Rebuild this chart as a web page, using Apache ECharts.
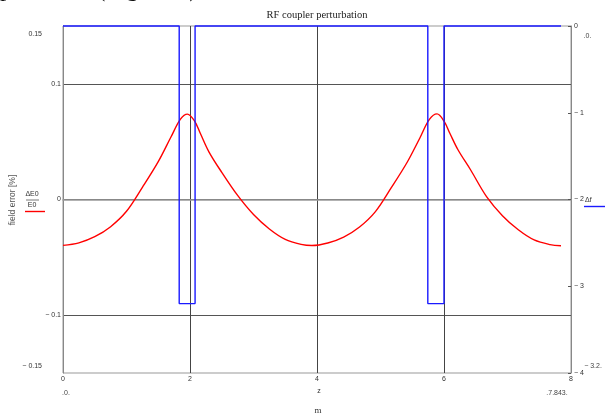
<!DOCTYPE html>
<html>
<head>
<meta charset="utf-8">
<script src="https://cdn.jsdelivr.net/npm/echarts@6/dist/echarts.min.js"></script>
<style>
  html, body { margin: 0; padding: 0; background: #fff; }
  #chart { width: 605px; height: 415px; }
</style>
</head>
<body>
<div id="chart"></div>
<script>
// field error along the cavity
const zValues = [0, 0.25, 0.5, 0.75, 1.0, 1.25, 1.5, 1.7, 1.85, 1.96, 2.07, 2.16, 2.3, 2.5, 2.75, 3.0, 3.25, 3.5, 3.75, 3.92,
  4.17, 4.42, 4.67, 4.92, 5.17, 5.42, 5.62, 5.77, 5.89, 6.0, 6.09, 6.22, 6.42, 6.67, 6.92, 7.17, 7.42, 7.67, 7.843];
const fieldError = [-0.0397, -0.0375, -0.0322, -0.0235, -0.0102, 0.0105, 0.0327, 0.054, 0.0695, 0.0738, 0.068, 0.0575,
  0.041, 0.0235, 0.0035, -0.013, -0.0255, -0.0345, -0.0388, -0.0398,
  -0.0376, -0.0325, -0.0238, -0.0105, 0.0102, 0.0322, 0.0532, 0.0692, 0.074, 0.0678, 0.0575, 0.043, 0.0255, 0.0025,
  -0.014, -0.0262, -0.035, -0.039, -0.04];

// coupler frequency perturbation (step)
const couplerZ = [0, 1.83, 1.83, 2.08, 2.08, 5.745, 5.745, 6.0, 6.0, 7.843];
const couplerDf = [0, 0, -3.2, -3.2, 0, 0, -3.2, -3.2, 0, 0];

const hiddenLeftTicks = [0.05, -0.05];
const leftLimits = [0.15, -0.15];

const minus = (v) => (v < 0 ? '\u2212 ' : '') + Math.abs(v);
const tickFont = { fontSize: 7, fontFamily: 'Liberation Sans', color: '#333' };

const chart = echarts.init(document.getElementById('chart'), null, { renderer: 'canvas' });

const option = {
  animation: false,
  backgroundColor: '#fff',
  grid: {
    left: 63, right: 34, top: 26, bottom: 42,
    show: true, borderColor: '#999', borderWidth: 1,
  },
  xAxis: {
    type: 'value', min: 0, max: 8, interval: 2,
    axisLine: { lineStyle: { color: '#999', width: 1.5 } },
    axisTick: { show: false },
    axisLabel: { ...tickFont, margin: 3 },
    splitLine: {
      show: true, showMinLine: false, showMaxLine: false,
      lineStyle: { color: '#444', width: 1 },
    },
  },
  yAxis: [
    {
      type: 'value', min: -0.15, max: 0.15, interval: 0.05,
      axisLine: { show: true, lineStyle: { color: '#888', width: 1 } },
      axisTick: { show: false },
      axisLabel: {
        ...tickFont, margin: 2,
        formatter: (v) => {
          const r = Math.round(v * 100) / 100;
          if (hiddenLeftTicks.includes(r)) return '';
          if (leftLimits.includes(r)) return (r > 0 ? '{top|' : '{bot|') + minus(r) + '}';
          return minus(r);
        },
        rich: {
          top: { ...tickFont, padding: [16, 19, 0, 0] },
          bot: { ...tickFont, padding: [0, 19, 14, 0] },
        },
      },
      splitLine: {
        show: true, showMinLine: false, showMaxLine: false,
        lineStyle: { color: ['#555', 'rgba(0,0,0,0)'], width: 1 },
      },
    },
    {
      type: 'value', min: -4, max: 0, interval: 1, position: 'right',
      axisLine: { show: true, lineStyle: { color: '#888', width: 1 } },
      axisTick: { show: true, inside: true, length: 3, lineStyle: { color: '#555' } },
      axisLabel: { ...tickFont, margin: 3, formatter: (v) => minus(v) },
      splitLine: { show: false },
    },
  ],
  series: [
    {
      name: 'ΔE0/E0',
      type: 'line',
      yAxisIndex: 0,
      data: zValues.map((z, i) => [z, fieldError[i]]),
      smooth: 0.35,
      symbol: 'none',
      lineStyle: { color: '#ff0000', width: 1.4 },
      z: 3,
    },
    {
      name: 'Δf',
      type: 'line',
      yAxisIndex: 1,
      data: couplerZ.map((z, i) => [z, couplerDf[i]]),
      symbol: 'none',
      clip: false,
      lineStyle: { color: '#1a1aff', width: 1.4 },
      z: 4,
    },
  ],
  graphic: [
    // cropped line of the surrounding document
    { type: 'text', x: 0, y: 2, style: { text: 'p', font: '25px "Liberation Serif"', fill: '#111', verticalAlign: 'bottom' } },
    { type: 'text', x: 97, y: 2, style: { text: '(Figure 3)', font: '25px "Liberation Serif"', fill: '#111', verticalAlign: 'bottom' } },
    { type: 'text', x: 317, y: 15, style: { text: 'RF coupler perturbation', font: '10.5px "Liberation Serif"', fill: '#222', align: 'center', verticalAlign: 'middle' } },
    { type: 'text', x: 13, y: 200, rotation: Math.PI / 2, style: { text: 'field error [%]', font: '8.5px "Liberation Sans"', fill: '#555', align: 'center', verticalAlign: 'middle' } },
    { type: 'text', x: 32, y: 194, style: { text: 'ΔE0', font: '7px "Liberation Sans"', fill: '#333', align: 'center', verticalAlign: 'middle' } },
    { type: 'line', shape: { x1: 26, y1: 200, x2: 39, y2: 200 }, style: { stroke: '#555', lineWidth: 0.8 } },
    { type: 'text', x: 32, y: 205.5, style: { text: 'E0', font: '7px "Liberation Sans"', fill: '#333', align: 'center', verticalAlign: 'middle' } },
    { type: 'line', shape: { x1: 25, y1: 211.5, x2: 45, y2: 211.5 }, style: { stroke: '#ff0000', lineWidth: 1.4 } },
    { type: 'text', x: 585, y: 200, style: { text: 'Δf', font: '7px "Liberation Sans"', fill: '#333', verticalAlign: 'middle' } },
    { type: 'line', shape: { x1: 584, y1: 206.5, x2: 605, y2: 206.5 }, style: { stroke: '#1a1aff', lineWidth: 1.4 } },
    { type: 'text', x: 587.5, y: 36, style: { text: '.0.', font: '7px "Liberation Sans"', fill: '#444', align: 'center', verticalAlign: 'middle' } },
    { type: 'text', x: 593, y: 366, style: { text: '\u2212 3.2.', font: '7px "Liberation Sans"', fill: '#444', align: 'center', verticalAlign: 'middle' } },
    { type: 'text', x: 66, y: 393, style: { text: '.0.', font: '7px "Liberation Sans"', fill: '#444', align: 'center', verticalAlign: 'middle' } },
    { type: 'text', x: 557, y: 393, style: { text: '.7.843.', font: '7px "Liberation Sans"', fill: '#444', align: 'center', verticalAlign: 'middle' } },
    { type: 'text', x: 319, y: 391, style: { text: 'z', font: '7px "Liberation Sans"', fill: '#333', align: 'center', verticalAlign: 'middle' } },
    { type: 'text', x: 318, y: 411, style: { text: 'm', font: '9px "Liberation Serif"', fill: '#333', align: 'center', verticalAlign: 'middle' } },
  ],
};

chart.setOption(option);
</script>
</body>
</html>
